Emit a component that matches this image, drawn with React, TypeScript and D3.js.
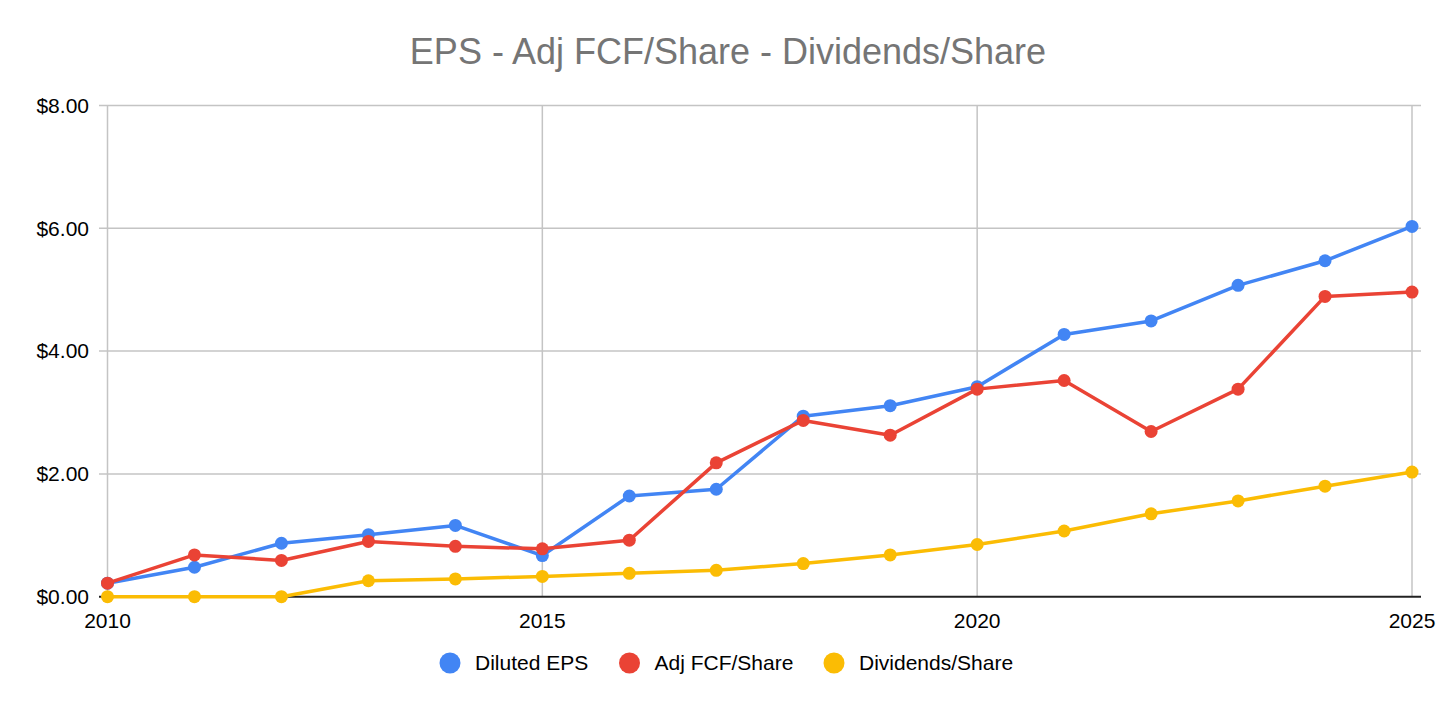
import React from "react";
import * as d3 from "d3";

const years = [2010, 2011, 2012, 2013, 2014, 2015, 2016, 2017, 2018, 2019, 2020, 2021, 2022, 2023, 2024, 2025];
const dilutedEps = [0.22, 0.48, 0.87, 1.01, 1.16, 0.67, 1.64, 1.75, 2.94, 3.11, 3.42, 4.27, 4.49, 5.07, 5.47, 6.03];
const adjFcfPerShare = [0.22, 0.68, 0.59, 0.9, 0.82, 0.78, 0.92, 2.18, 2.87, 2.63, 3.38, 3.52, 2.69, 3.38, 4.89, 4.96];
const dividendsPerShare = [0, 0, 0, 0.26, 0.29, 0.33, 0.38, 0.43, 0.54, 0.68, 0.85, 1.07, 1.35, 1.56, 1.8, 2.03];
const yTicks = [0, 2, 4, 6, 8];
const xTicks = [2010, 2015, 2020, 2025];
const seriesNames = ["Diluted EPS", "Adj FCF/Share", "Dividends/Share"];
const seriesColors = ["#4285F4", "#EA4335", "#FBBC04"];
const title = "EPS - Adj FCF/Share - Dividends/Share";

const W = 1456;
const H = 710;
const FONT = "'Liberation Sans', Arial, sans-serif";

export default function App() {
  const x = d3.scaleLinear().domain([2010, 2025]).range([107.5, 1412]);
  const y = d3.scaleLinear().domain([0, 8]).range([596.7, 105.4]);
  const fmt = d3.format("$.2f");
  const series = [dilutedEps, adjFcfPerShare, dividendsPerShare];
  const line = d3
    .line<number>()
    .x((_, i) => x(years[i]))
    .y((d) => y(d));
  const gridLeft = 99;
  const gridRight = 1421;
  const legendX = [450, 629.5, 834];

  return (
    <svg
      width={W}
      height={H}
      style={{ position: "absolute", left: 0, top: 0, background: "#fff" }}
      fontFamily={FONT}
    >
      <rect x={0} y={0} width={W} height={H} fill="#fff" />
      <text x={728} y={64} textAnchor="middle" fontSize={36} fill="#757575">
        {title}
      </text>
      {yTicks.map((t) => (
        <g key={"y" + t}>
          {t !== 0 && (
            <line x1={gridLeft} x2={gridRight} y1={y(t)} y2={y(t)} stroke="#c4c4c4" strokeWidth={1.5} />
          )}
          <text x={89} y={y(t)} dy="0.35em" textAnchor="end" fontSize={21} fill="#000">
            {fmt(t)}
          </text>
        </g>
      ))}
      {xTicks.map((t) => (
        <g key={"x" + t}>
          <line x1={x(t)} x2={x(t)} y1={y(8)} y2={y(0)} stroke="#c4c4c4" strokeWidth={1.5} />
          <text x={x(t)} y={628} textAnchor="middle" fontSize={21} fill="#000">
            {t}
          </text>
        </g>
      ))}
      <line x1={gridLeft} x2={gridRight} y1={y(0)} y2={y(0)} stroke="#222" strokeWidth={2} />
      {series.map((s, si) => (
        <g key={"s" + si}>
          <path d={line(s) || ""} fill="none" stroke={seriesColors[si]} strokeWidth={3.5} strokeLinejoin="round" />
          {s.map((v, i) => (
            <circle key={i} cx={x(years[i])} cy={y(v)} r={6.5} fill={seriesColors[si]} />
          ))}
        </g>
      ))}
      {seriesNames.map((n, i) => (
        <g key={"l" + i}>
          <circle cx={legendX[i]} cy={663} r={10.5} fill={seriesColors[i]} />
          <text x={legendX[i] + 25} y={663} dy="0.35em" fontSize={21} fill="#000">
            {n}
          </text>
        </g>
      ))}
    </svg>
  );
}
